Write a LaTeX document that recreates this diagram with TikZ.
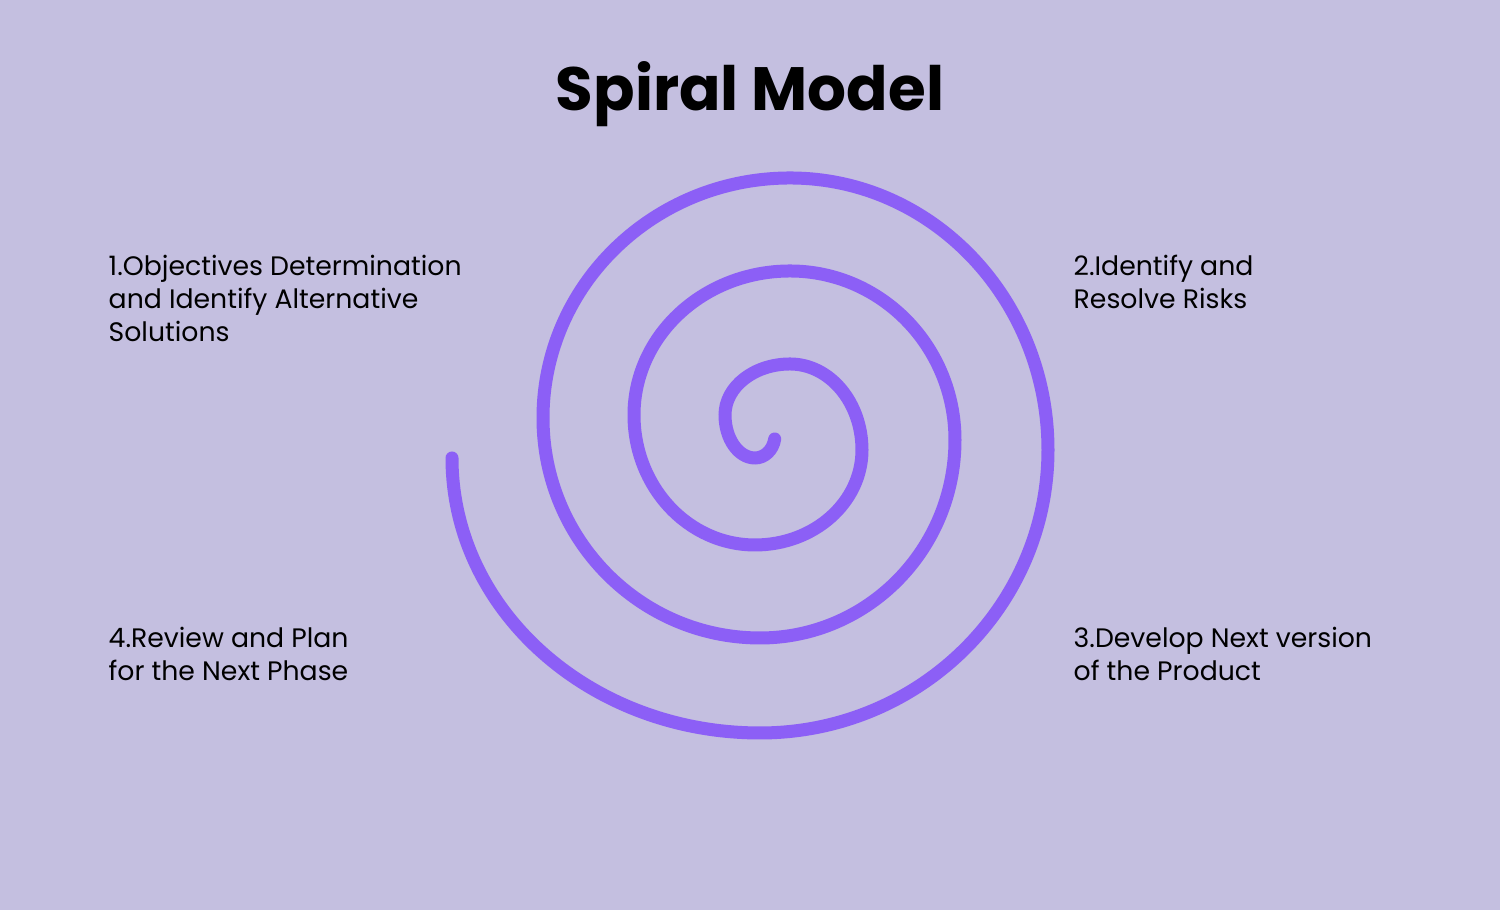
\documentclass[tikz,border=0pt]{standalone}
\usepackage{fontspec}
\setmainfont{Poppins}
\definecolor{bg}{RGB}{196,191,224}
\definecolor{spir}{RGB}{140,95,246}
\begin{document}
\begin{tikzpicture}
\tikzset{lbl/.style={anchor=north west,align=left,font=\fontsize{7.6}{9.4}\selectfont,inner sep=0pt}}
\fill[bg] (0,0) rectangle (15,9.1);
\useasboundingbox (0,0) rectangle (15,9.1);
\node[font=\bfseries\fontsize{17.4}{20}\selectfont] (title) at (7.5,8.16) {Spiral Model};
\draw[spir,line width=3.7pt,line cap=round]
 (4.52,4.52) arc[start angle=180,end angle=270,x radius=3.08cm,y radius=2.75cm]
 arc[start angle=270,end angle=360,x radius=2.88cm,y radius=2.83cm]
 arc[start angle=0,end angle=90,x radius=2.58cm,y radius=2.72cm]
 arc[start angle=90,end angle=180,x radius=2.47cm,y radius=2.40cm]
 arc[start angle=180,end angle=270,x radius=2.17cm,y radius=2.20cm]
 arc[start angle=270,end angle=360,x radius=1.95cm,y radius=1.98cm]
 arc[start angle=0,end angle=90,x radius=1.65cm,y radius=1.69cm]
 arc[start angle=90,end angle=180,x radius=1.56cm,y radius=1.44cm]
 arc[start angle=180,end angle=270,x radius=1.21cm,y radius=1.30cm]
 arc[start angle=270,end angle=360,x radius=1.07cm,y radius=0.95cm]
 arc[start angle=0,end angle=90,x radius=0.72cm,y radius=0.86cm]
 arc[start angle=90,end angle=180,x radius=0.65cm,y radius=0.51cm]
 arc[start angle=180,end angle=270,x radius=0.30cm,y radius=0.43cm]
 arc[start angle=270,end angle=350,x radius=0.20cm,y radius=0.23cm];
\node[lbl] (l1) at (1.08,6.56) {1.Objectives Determination\\and Identify Alternative\\Solutions};
\node[lbl] (l2) at (10.73,6.56) {2.Identify and\\Resolve Risks};
\node[lbl] (l3) at (10.73,2.84) {3.Develop Next version\\of the Product};
\node[lbl] (l4) at (1.08,2.84) {4.Review and Plan\\for the Next Phase};
\end{tikzpicture}
\end{document}
